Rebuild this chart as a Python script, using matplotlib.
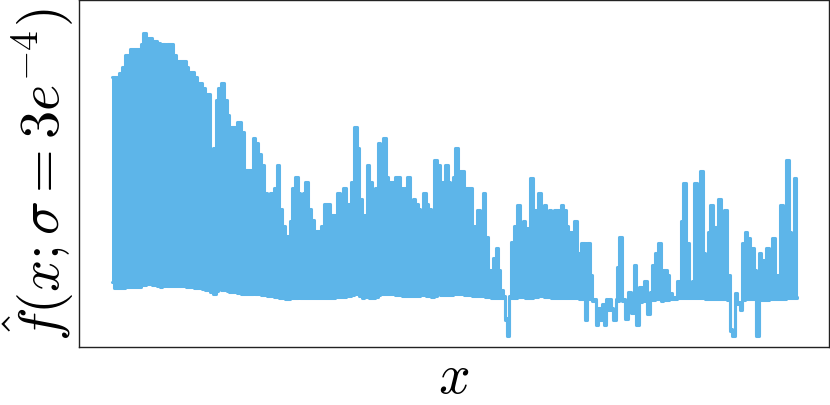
import numpy as np
import matplotlib
matplotlib.use("Agg")
import matplotlib.pyplot as plt

plt.rcParams['mathtext.fontset'] = 'cm'

# sample positions (start of each plateau of the oscillating estimate)
x = [0, 2, 7, 10, 13, 18, 29, 31, 34, 40, 45, 48, 50, 53, 55, 61, 64, 74, 76, 82,
     85, 90, 93, 98, 101, 104, 106, 109, 112, 115, 117, 125, 129, 132, 133, 141, 143, 146, 149, 152,
     155, 158, 160, 162, 165, 167, 170, 173, 178, 180, 183, 186, 188, 191, 193, 196, 199, 202, 209, 212,
     218, 223, 225, 228, 231, 234, 236, 239, 242, 245, 247, 250, 252, 255, 257, 260, 263, 266, 268, 271,
     274, 276, 283, 288, 290, 292, 295, 298, 301, 303, 306, 308, 311, 314, 316, 319, 322, 325, 328, 330,
     333, 336, 338, 341, 343, 346, 352, 360, 363, 365, 368, 371, 373, 376, 379, 381, 384, 386, 388, 391,
     393, 395, 397, 399, 402, 405, 408, 411, 413, 416, 418, 421, 424, 426, 429, 432, 434, 437, 439, 442,
     449, 451, 454, 456, 462, 465, 467, 469, 473, 475, 478, 480, 484, 486, 488, 490, 492, 494, 495, 497,
     499, 501, 504, 505, 507, 510, 513, 516, 519, 522, 524, 527, 530, 532, 535, 538, 540, 543, 546, 549,
     551, 555, 557, 560, 565, 569, 571, 574, 577, 580, 582, 585, 588, 591, 593, 596, 598, 601, 603, 606,
     609, 612, 615, 618, 620, 623, 625, 628, 630, 633, 635, 638, 642, 644, 647, 649, 652, 654, 657, 660,
     663, 665, 668, 671, 674, 677, 679, 682, 684, 685]

# upper envelope of the rapidly oscillating curve
upper = [270, 270, 274, 280, 292, 298, 303, 314, 309, 306, 304, 275, 303, 299, 303, 292, 286, 280, 275, 270,
         264, 259, 253, 194, 199, 247, 259, 264, 247, 232, 220, 225, 215, 165, 177, 209, 204, 193, 182, 154,
         144, 154, 149, 159, 182, 138, 121, 111, 126, 159, 170, 154, 125, 154, 165, 138, 127, 116, 121, 143,
         132, 127, 154, 144, 159, 133, 143, 165, 220, 199, 148, 127, 132, 182, 165, 138, 159, 204, 199, 209,
         170, 165, 170, 159, 154, 159, 170, 132, 148, 143, 138, 132, 154, 143, 138, 127, 187, 182, 149, 165,
         182, 165, 149, 170, 199, 176, 159, 121, 105, 137, 112, 154, 110, 77, 62, 89, 99, 77, 57, 51,
         29, 13, 51, 105, 121, 142, 110, 126, 119, 110, 169, 137, 132, 154, 132, 142, 127, 137, 132, 137,
         142, 137, 121, 115, 126, 94, 50, 104, 29, 104, 72, 48, 24, 39, 29, 43, 24, 48, 39, 48,
         39, 29, 48, 80, 110, 48, 30, 55, 36, 82, 24, 60, 52, 66, 35, 55, 82, 94, 104, 49,
         77, 72, 54, 50, 66, 126, 164, 104, 60, 66, 164, 154, 176, 94, 77, 115, 142, 109, 120, 148,
         104, 137, 72, 18, 13, 54, 45, 39, 104, 115, 109, 99, 77, 13, 94, 87, 60, 99, 87, 109,
         60, 72, 142, 126, 187, 115, 109, 169, 50, 50]

# lower envelope of the rapidly oscillating curve
lower = [65, 59, 59, 59, 60, 60, 62, 62, 63, 62, 61, 60, 61, 62, 61, 61, 61, 60, 60, 59,
         59, 58, 57, 55, 53, 56, 58, 57, 57, 56, 55, 54, 53, 53, 53, 54, 53, 53, 52, 52,
         51, 51, 51, 50, 50, 49, 49, 48, 49, 49, 49, 50, 49, 49, 49, 49, 49, 49, 49, 49,
         49, 50, 50, 50, 50, 51, 51, 52, 53, 54, 51, 49, 50, 50, 49, 49, 50, 52, 53, 53,
         53, 53, 52, 52, 51, 51, 51, 51, 51, 51, 51, 52, 52, 51, 51, 50, 51, 53, 52, 52,
         52, 52, 52, 53, 53, 53, 52, 51, 51, 51, 51, 51, 50, 50, 49, 49, 49, 49, 49, 49,
         27, 11, 49, 49, 49, 50, 50, 50, 49, 49, 49, 50, 50, 51, 51, 50, 50, 50, 49, 49,
         49, 49, 49, 49, 49, 49, 48, 48, 27, 48, 48, 46, 22, 37, 27, 41, 22, 46, 37, 46,
         37, 27, 46, 46, 47, 46, 28, 45, 34, 46, 22, 45, 47, 46, 33, 47, 47, 48, 48, 46,
         47, 47, 48, 48, 49, 49, 49, 49, 49, 49, 49, 49, 49, 49, 48, 48, 48, 48, 48, 48,
         48, 48, 47, 16, 11, 47, 43, 37, 47, 48, 48, 48, 48, 11, 47, 47, 47, 47, 48, 48,
         48, 48, 48, 48, 49, 49, 49, 49, 49, 49]

color = '#5DB5E9'

fig = plt.figure(figsize=(8.30, 4.06), dpi=100)
ax = fig.add_axes([78.5 / 830, 58 / 406, 750.5 / 830, 347.5 / 406])

ax.fill_between(x, lower, upper, step='post', color=color, lw=0)
ax.plot(x, upper, drawstyle='steps-post', color=color, lw=2.2,
        solid_joinstyle='round', solid_capstyle='round')
ax.plot(x, lower, drawstyle='steps-post', color=color, lw=2.2,
        solid_joinstyle='round', solid_capstyle='round')

ax.set_xlim(-33.5, 717)
ax.set_ylim(0, 348)
ax.set_xticks([])
ax.set_yticks([])
for s in ax.spines.values():
    s.set_linewidth(1.0)
    s.set_color('#222222')

ax.set_xlabel(r'$x$', fontsize=40, labelpad=2)
ax.set_ylabel(r'$\hat{f}(x;\sigma=3e^{-4})$', fontsize=40.5, labelpad=2)

fig.savefig('out.png', dpi=100)
